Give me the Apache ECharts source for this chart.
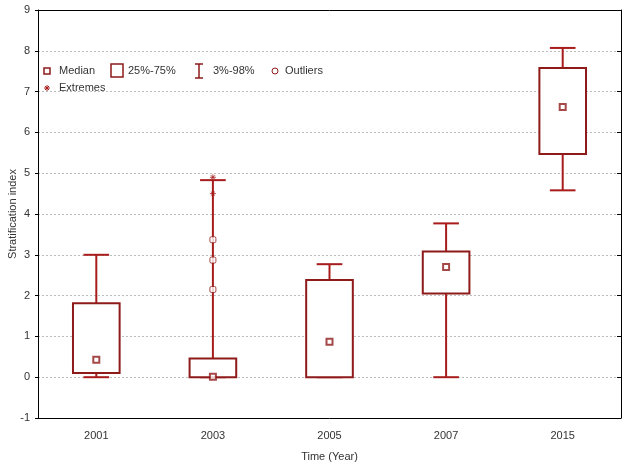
<!DOCTYPE html>
<html>
<head>
<meta charset="utf-8">
<script src="https://cdn.jsdelivr.net/npm/echarts@6/dist/echarts.min.js"></script>
<style>
  html, body { margin: 0; padding: 0; background: #fff; }
  #chart { width: 626px; height: 467px; }
</style>
</head>
<body>
<div id="chart"></div>
<script>
// categories
const years = ['2001', '2003', '2005', '2007', '2015']

// box stats per year
const lowWhisker = [0, 0, 0, 0, 4.58]
const q1 = [0.1, 0, 0, 2.05, 5.47]
const median = [0.43, 0.01, 0.87, 2.7, 6.62]
const q3 = [1.81, 0.46, 2.38, 3.08, 7.58]
const highWhisker = [3.0, 4.83, 2.77, 3.77, 8.07]

// [year index, value]
const outliers = [[1, 3.37], [1, 2.87], [1, 2.15]]
const extremes = [[1, 4.9], [1, 4.5]]

const yTicks = { min: -1, max: 9, interval: 1 }

const boxColor = '#8e1a1a'
const whiskerColor = '#a81c1c'
const font = 'Liberation Sans, Arial, sans-serif'
const textColor = '#333'

const chart = echarts.init(document.getElementById('chart'), null, { renderer: 'canvas' })

const renderBox = (params, api) => {
  const idx = api.value(0)
  const band = api.size([1, 0])[0]
  const boxW = band * 0.4
  const capW = band * 0.22
  const x = api.coord([idx, 0])[0]
  const yLow = api.coord([idx, api.value(1)])[1]
  const yQ1 = api.coord([idx, api.value(2)])[1]
  const yQ3 = api.coord([idx, api.value(4)])[1]
  const yHigh = api.coord([idx, api.value(5)])[1]
  const lineStyle = { stroke: whiskerColor, lineWidth: 2 }
  return {
    type: 'group',
    children: [
      { type: 'line', shape: { x1: x, y1: yQ3, x2: x, y2: yHigh }, style: lineStyle },
      { type: 'line', shape: { x1: x, y1: yQ1, x2: x, y2: yLow }, style: lineStyle },
      { type: 'line', shape: { x1: x - capW / 2, y1: yHigh, x2: x + capW / 2, y2: yHigh }, style: lineStyle },
      { type: 'line', shape: { x1: x - capW / 2, y1: yLow, x2: x + capW / 2, y2: yLow }, style: lineStyle },
      {
        type: 'rect',
        shape: { x: x - boxW / 2, y: yQ3, width: boxW, height: yQ1 - yQ3 },
        style: { fill: '#fff', stroke: boxColor, lineWidth: 2 },
      },
    ],
  }
}

const asterisk = 'path://M0,5 L10,5 M5,0 L5,10 M1.5,1.5 L8.5,8.5 M8.5,1.5 L1.5,8.5'

// legend drawn by hand
const legendText = (x, y, text) => ({
  type: 'text', x, y,
  style: { text, font: `11px ${font}`, fill: textColor, verticalAlign: 'middle' },
})
const legendLine = (x1, y1, x2, y2, color, w) => ({
  type: 'line', shape: { x1, y1, x2, y2 }, style: { stroke: color, lineWidth: w },
})

const legend = [
  { type: 'rect', shape: { x: 44, y: 68, width: 6, height: 6 }, style: { fill: '#fff', stroke: boxColor, lineWidth: 1.5 } },
  legendText(59, 71, 'Median'),
  { type: 'rect', shape: { x: 111, y: 64, width: 12, height: 13 }, style: { fill: '#fff', stroke: boxColor, lineWidth: 1.5 } },
  legendText(128, 71, '25%-75%'),
  legendLine(199, 64, 199, 78, boxColor, 1.5),
  legendLine(195, 64, 203, 64, boxColor, 1.5),
  legendLine(195, 78, 203, 78, boxColor, 1.5),
  legendText(213, 71, '3%-98%'),
  { type: 'circle', shape: { cx: 275, cy: 71, r: 3 }, style: { fill: '#fff', stroke: boxColor, lineWidth: 1 } },
  legendText(285, 71, 'Outliers'),
  legendLine(44, 88, 50, 88, whiskerColor, 1),
  legendLine(47, 85, 47, 91, whiskerColor, 1),
  legendLine(45, 86, 49, 90, whiskerColor, 1),
  legendLine(49, 86, 45, 90, whiskerColor, 1),
  legendText(59, 88, 'Extremes'),
]

chart.setOption({
  animation: false,
  grid: { left: 38, right: 5, top: 10, bottom: 49, outerBoundsMode: 'none', containLabel: false },
  xAxis: [
    {
      type: 'category',
      data: years,
      boundaryGap: true,
      name: 'Time (Year)',
      nameLocation: 'middle',
      nameGap: 33,
      nameMoveOverlap: false,
      nameTextStyle: { fontFamily: font, fontSize: 11, color: textColor },
      axisLine: { onZero: false, lineStyle: { color: '#000', width: 1 } },
      axisTick: { inside: true, alignWithLabel: true, length: 4, lineStyle: { color: '#000' } },
      axisLabel: { fontFamily: font, fontSize: 11, color: textColor, margin: 12 },
    },
    {
      type: 'category',
      data: years,
      position: 'top',
      boundaryGap: true,
      axisLine: { onZero: false, lineStyle: { color: '#000', width: 1 } },
      axisTick: { inside: true, alignWithLabel: true, length: 4, lineStyle: { color: '#000' } },
      axisLabel: { show: false },
    },
  ],
  yAxis: [
    {
      type: 'value',
      ...yTicks,
      name: 'Stratification index',
      nameLocation: 'middle',
      nameGap: 20,
      nameMoveOverlap: false,
      nameTextStyle: { fontFamily: font, fontSize: 11, color: textColor },
      axisLine: { show: true, onZero: false, lineStyle: { color: '#000', width: 1 } },
      axisTick: { show: true, inside: false, length: 3, lineStyle: { color: '#000' } },
      axisLabel: { fontFamily: font, fontSize: 11, color: textColor, margin: 8 },
      splitLine: { show: true, lineStyle: { color: '#bbb', type: [2, 2] } },
    },
    {
      type: 'value',
      ...yTicks,
      position: 'right',
      axisLine: { show: true, onZero: false, lineStyle: { color: '#000', width: 1 } },
      axisTick: { show: true, inside: true, length: 4, lineStyle: { color: '#000' } },
      axisLabel: { show: false },
      splitLine: { show: false },
    },
  ],
  graphic: legend,
  series: [
    {
      type: 'custom',
      renderItem: renderBox,
      encode: { x: 0, y: [1, 2, 3, 4, 5] },
      data: years.map((_, i) => [i, lowWhisker[i], q1[i], median[i], q3[i], highWhisker[i]]),
      z: 2,
    },
    {
      name: 'Median',
      type: 'scatter',
      symbol: 'rect',
      symbolSize: 6,
      itemStyle: { color: '#fff', borderColor: boxColor, borderWidth: 2 },
      data: years.map((_, i) => [i, median[i]]),
      z: 5,
    },
    {
      name: 'Outliers',
      type: 'scatter',
      symbol: 'roundRect',
      symbolSize: 6,
      itemStyle: { color: '#fff', borderColor: boxColor, borderWidth: 1 },
      data: outliers,
      z: 5,
    },
    {
      name: 'Extremes',
      type: 'scatter',
      symbol: asterisk,
      symbolSize: 6,
      itemStyle: { color: 'none', borderColor: whiskerColor, borderWidth: 1 },
      data: extremes,
      z: 5,
    },
  ],
})
</script>
</body>
</html>
